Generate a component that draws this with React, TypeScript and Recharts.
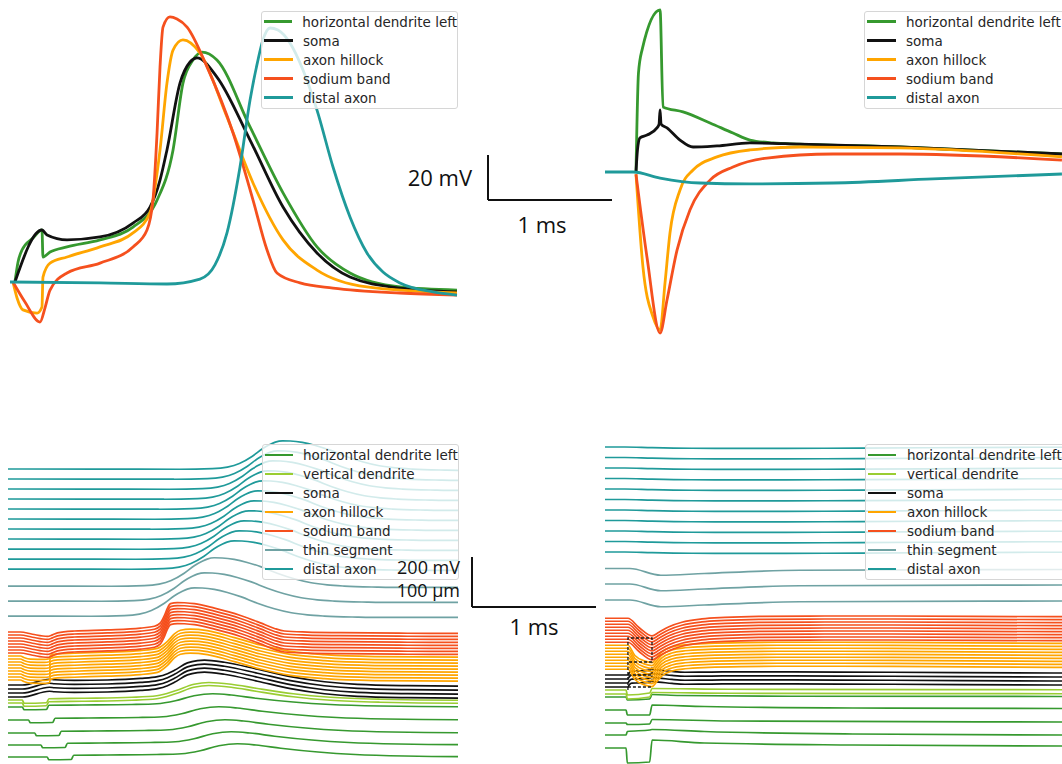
import React from 'react';
import { LineChart, Line, XAxis, YAxis, ReferenceLine, Legend } from 'recharts';

type Pair = [number, number];
type Pt = { t: number; v: number };

// ---------------- colours ----------------
const GREEN = '#36992f';
const YGREEN = '#9acd32';
const BLACK = '#111111';
const ORANGE = '#ffa500';
const RED = '#f5501e';
const TEAL = '#1f9a9a';
const THIN = '#6fa2a3';

// ---------------- legend labels ----------------
const LABELS_TOP = ['horizontal dendrite left', 'soma', 'axon hillock', 'sodium band', 'distal axon'];
const COLORS_TOP = [GREEN, BLACK, ORANGE, RED, TEAL];
const LABELS_BOTTOM = ['horizontal dendrite left', 'vertical dendrite', 'soma', 'axon hillock', 'sodium band', 'thin segment', 'distal axon'];
const COLORS_BOTTOM = [GREEN, YGREEN, BLACK, ORANGE, RED, THIN, TEAL];

// ---------------- scale bars ----------------
const SCALE_MS = 1;
const SCALE_TOP_MV = 20;
const SCALE_BOTTOM_MV = 200;
const SCALE_BOTTOM_UM = 100;

// ---------------- top-left: membrane potential (time ms, V mV) ----------------
const AP_HDEND: Pair[] = [
  [0.056, -75], [0.081, -66.1], [0.113, -60.8], [0.202, -55.4], [0.274, -51.9], [0.282, -63.9],
  [0.339, -61.7], [0.476, -59.4], [0.742, -56.3], [1.008, -50.6], [1.202, -38.6], [1.331, -16.3],
  [1.411, 13.4], [1.492, 23.7], [1.565, 27.2], [1.685, 23.7], [1.952, -6.1], [2.218, -35.4],
  [2.492, -59.4], [2.758, -71.0], [3.161, -77.2], [3.621, -78.6],
];
const AP_SOMA: Pair[] = [
  [0.056, -75], [0.274, -51.9], [0.315, -54.1], [0.476, -56.3], [0.742, -55.0], [1.008, -48.8],
  [1.145, -41.7], [1.226, -29.7], [1.282, -16.3], [1.387, 13.4], [1.468, 22.8], [1.524, 24.6],
  [1.685, 16.1], [1.952, -11.9], [2.218, -41.7], [2.492, -62.1], [2.758, -72.8], [3.161, -77.7],
  [3.621, -79.4],
];
const AP_HILLOCK: Pair[] = [
  [0.04, -75], [0.073, -82.1], [0.121, -87.4], [0.234, -88.8], [0.274, -86.1], [0.282, -72.8],
  [0.339, -66.6], [0.476, -63.9], [0.742, -59.4], [1.008, -53.2], [1.145, -44.3], [1.226, -16.3],
  [1.282, 13.4], [1.331, 28.1], [1.411, 32.6], [1.548, 26.8], [1.766, -1.7], [1.976, -31.0],
  [2.218, -56.3], [2.492, -69.7], [2.895, -77.2], [3.621, -79.9],
];
const AP_SODIUM: Pair[] = [
  [0.04, -75], [0.137, -83.9], [0.258, -92.8], [0.298, -86.6], [0.339, -78.6], [0.476, -71.0],
  [0.742, -66.6], [1.008, -59.4], [1.121, -51.9], [1.169, -38.6], [1.202, -8.8], [1.226, 20.6],
  [1.25, 38.3], [1.306, 42.8], [1.363, 41.9], [1.444, 38.3], [1.605, 20.6], [1.815, -8.8],
  [1.976, -38.6], [2.089, -60.8], [2.169, -71.0], [2.355, -75.4], [2.621, -77.7], [3.161, -79.9],
  [3.621, -80.8],
];
const AP_DISTAL: Pair[] = [
  [0.016, -75.0], [0.742, -75.4], [1.282, -75.9], [1.548, -73.7], [1.669, -67.4], [1.766, -53.2],
  [1.871, -23.9], [1.952, 5.9], [2.016, 23.7], [2.056, 32.6], [2.113, 37.9], [2.177, 37.0],
  [2.274, 31.2], [2.379, 19.2], [2.492, 1.4], [2.621, -23.9], [2.758, -46.1], [2.895, -62.1],
  [3.024, -70.6], [3.161, -75.4], [3.427, -79.4], [3.621, -80.8],
];

// ---------------- top-right: change from rest (time ms, mV) ----------------
const DV_HDEND: Pair[] = [
  [0.25, 0], [0.27, 44], [0.3, 54.5], [0.444, 72], [0.468, 28.9], [0.629, 26.7], [0.847, 21.8],
  [1.032, 17.3], [1.169, 14.2], [1.355, 12.9], [1.573, 12.4], [2.379, 11.1], [3.685, 8.0],
];
const DV_SOMA: Pair[] = [
  [0.25, 0], [0.262, 9.8], [0.282, 15.2], [0.339, 16.4], [0.419, 19.6], [0.436, 21.3], [0.444, 27.6],
  [0.452, 21.3], [0.5, 19.6], [0.605, 14.2], [0.71, 11.1], [0.903, 11.6], [1.169, 12.9], [1.573, 12.4],
  [2.379, 11.1], [3.685, 8.0],
];
const DV_HILLOCK: Pair[] = [
  [0.25, -1], [0.306, -42.2], [0.387, -64.4], [0.444, -70.2], [0.484, -49.3], [0.524, -27.1],
  [0.605, -8.0], [0.71, 0.9], [0.903, 6.7], [1.169, 9.8], [1.573, 11.1], [2.379, 10.7], [3.685, 6.7],
];
const DV_SODIUM: Pair[] = [
  [0.25, -1], [0.339, -38], [0.444, -71.6], [0.5, -56.9], [0.581, -34.7], [0.685, -16.9],
  [0.847, -3.6], [1.032, 2.2], [1.306, 6.2], [1.839, 8.0], [2.379, 8.0], [3.685, 5.3],
];
const DV_DISTAL: Pair[] = [
  [0, 0], [0.226, 0], [0.444, -2.7], [0.766, -4.9], [1.169, -5.3], [1.839, -4.9], [2.645, -3.1], [3.685, -0.9],
];

// ---------------- bottom-left: voltage traces stacked by position (µm) ----------------
const BL_DISTAL_POS = [600, 580, 560, 540, 520, 500, 480, 460, 440, 420, 400];
const BL_DISTAL_DELAY = [0.1, 0.06, 0.02, -0.02, -0.06, -0.1, -0.13, -0.17, -0.21, -0.25, -0.29];
const BL_THIN_POS = [366, 336, 306];
const BL_THIN_DELAY = [-0.45, -0.53, -0.61];
const BL_SODIUM_POS = [274, 268, 262, 256, 250, 244, 238, 232];
const BL_HILLOCK_POS = [226, 220, 214, 208, 202, 196, 190, 184, 178];
const BL_SOMA_POS = [168, 160, 152, 144];
const BL_CORE_DELAY = 0.06;
const BL_VDEND_POS = [138, 132];
const BL_HDEND_POS = [124, 98, 72, 48, 24];
const BL_HDEND_DELAY = [0, 0.05, 0.1, 0.15, 0.2];
const BL_VDEND_TRACE: Pair[] = [
  [0, -75], [0.115, -75], [0.13, -88], [0.31, -86], [0.33, -70], [0.6, -68], [1.0, -64], [1.2, -58],
  [1.35, -38], [1.5, -12], [1.62, -5], [1.8, -12], [2.0, -28], [2.3, -50], [2.6, -64], [3.0, -72], [3.63, -76],
];
const BL_HDEND_TRACE: Pair[] = [
  [0, -75], [0.115, -75], [0.13, -86], [0.31, -85], [0.33, -68], [0.6, -67], [1.0, -65], [1.2, -62],
  [1.35, -50], [1.5, -30], [1.65, -22], [1.8, -27], [2.0, -40], [2.3, -55], [2.6, -65], [3.0, -71], [3.63, -74],
];

// ---------------- bottom-right: change traces stacked by position (µm) ----------------
const BR_DISTAL_POS = [600, 579, 558, 537, 516, 495, 474, 453, 432, 411, 390];
const BR_THIN_POS = [357, 326, 294];
const BR_SODIUM_POS = [258, 252, 246, 240, 234, 228, 222, 216, 210];
const BR_HILLOCK_POS = [204, 198, 192, 186, 180, 174, 168, 162, 156];
const BR_SOMA_POS = [144, 136, 128, 120];
const BR_VDEND_POS = [114, 106];
const BR_HDEND_POS = [100, 74, 48, 24, -2];
const BR_CORE_DELAY = -0.065;
const BR_THIN_TRACE: Pair[] = [[0, 0], [0.2, 0], [0.45, -27], [0.8, -20], [1.57, -7], [3.69, -4]];
const BR_VDEND_TRACE: Pair[] = [[0, 0], [0.17, 0], [0.18, -20], [0.36, -12], [0.38, 6], [1.0, 3], [3.69, 1]];
const BR_HDEND_TRACES: Pair[][] = [
  [[0, 0], [0.17, 0], [0.18, -12], [0.36, -8], [0.38, 10], [0.6, 6], [1.5, 3], [3.69, 2]],
  [[0, 0], [0.17, 0], [0.18, -20], [0.36, -20], [0.38, 20], [0.8, 14], [2.0, 8], [3.69, 6]],
  [[0, 0], [0.17, 0], [0.18, -6], [0.36, -4], [0.38, 14], [1.0, 8], [3.69, 4]],
  [[0, 0], [0.17, 0], [0.18, 14], [0.36, 20], [0.38, 22], [0.8, 14], [2.0, 4], [3.69, 0]],
  [[0, 0], [0.17, 0], [0.18, -60], [0.36, -56], [0.38, 32], [0.8, 20], [2.0, 12], [3.69, 8]],
];
// highlighted window (dashed outline) in bottom-right: time ms, stacked units
const BR_BOX_OUTLINE: Pair[] = [[0.185, 228], [0.185, 436], [0.379, 436], [0.379, 340], [0.185, 340]];
const BR_BOX_DASHES: Pair[][] = [
  [[0.185, 288], [0.379, 288]],
  [[0.185, 240], [0.379, 240]],
];

// ---------------- helpers ----------------
const toPoints = (tr: Pair[]): Pt[] => tr.map(([t, v]) => ({ t, v }));
const stacked = (tr: Pair[], posUm: number, delayMs: number): Pt[] => {
  const off = (2 * posUm * SCALE_BOTTOM_MV) / (2 * SCALE_BOTTOM_UM); // 100 µm ↔ 200 mV
  return [
    { t: -2, v: tr[0][1] + off },
    ...tr.map(([t, v]) => ({ t: t + delayMs, v: v + off })),
    { t: 8, v: tr[tr.length - 1][1] + off },
  ];
};

type Series = { key: string; data: Pt[]; color: string; width: number; dash?: string; curve?: 'linear' | 'monotone' };

const tlSeries: Series[] = [AP_HDEND, AP_SOMA, AP_HILLOCK, AP_SODIUM, AP_DISTAL].map((tr, i) => ({
  key: 'tl' + i, data: toPoints(tr), color: COLORS_TOP[i], width: 2.8,
}));
const trSeries: Series[] = [DV_HDEND, DV_SOMA, DV_HILLOCK, DV_SODIUM, DV_DISTAL].map((tr, i) => ({
  key: 'tr' + i, data: toPoints(tr), color: COLORS_TOP[i], width: 2.8,
}));

const BW = 1.7;
const blSeries: Series[] = [
  ...BL_HDEND_POS.map((p, i) => ({ key: 'blh' + i, data: stacked(BL_HDEND_TRACE, p, BL_HDEND_DELAY[i]), color: GREEN, width: BW })),
  ...BL_VDEND_POS.map((p, i) => ({ key: 'blv' + i, data: stacked(BL_VDEND_TRACE, p, 0), color: YGREEN, width: BW })),
  ...BL_SOMA_POS.map((p, i) => ({ key: 'bls' + i, data: stacked(AP_SOMA, p, BL_CORE_DELAY), color: BLACK, width: BW })),
  ...BL_HILLOCK_POS.map((p, i) => ({ key: 'blk' + i, data: stacked(AP_HILLOCK, p, BL_CORE_DELAY), color: ORANGE, width: BW })),
  ...BL_SODIUM_POS.map((p, i) => ({ key: 'bln' + i, data: stacked(AP_SODIUM, p, BL_CORE_DELAY), color: RED, width: BW })),
  ...BL_THIN_POS.map((p, i) => ({ key: 'blt' + i, data: stacked(AP_DISTAL, p, BL_THIN_DELAY[i]), color: THIN, width: BW })),
  ...BL_DISTAL_POS.map((p, i) => ({ key: 'bld' + i, data: stacked(AP_DISTAL, p, BL_DISTAL_DELAY[i]), color: TEAL, width: BW })),
];
const brSeries: Series[] = [
  ...BR_HDEND_POS.map((p, i) => ({ key: 'brh' + i, data: stacked(BR_HDEND_TRACES[i], p, 0), color: GREEN, width: BW })),
  ...BR_VDEND_POS.map((p, i) => ({ key: 'brv' + i, data: stacked(BR_VDEND_TRACE, p, 0), color: YGREEN, width: BW })),
  ...BR_SOMA_POS.map((p, i) => ({ key: 'brs' + i, data: stacked(DV_SOMA, p, BR_CORE_DELAY), color: BLACK, width: BW })),
  ...BR_HILLOCK_POS.map((p, i) => ({ key: 'brk' + i, data: stacked(DV_HILLOCK, p, BR_CORE_DELAY), color: ORANGE, width: BW })),
  ...BR_SODIUM_POS.map((p, i) => ({ key: 'brn' + i, data: stacked(DV_SODIUM, p, BR_CORE_DELAY), color: RED, width: BW })),
  ...BR_THIN_POS.map((p, i) => ({ key: 'brt' + i, data: stacked(BR_THIN_TRACE, p, 0), color: THIN, width: BW })),
  ...BR_DISTAL_POS.map((p, i) => ({ key: 'brd' + i, data: stacked(DV_DISTAL, p, BR_CORE_DELAY), color: TEAL, width: BW })),
  { key: 'brbox', data: toPoints(BR_BOX_OUTLINE), color: '#1a1a1a', width: 1.3, dash: '3 2', curve: 'linear' },
  ...BR_BOX_DASHES.map((d, i) => ({ key: 'brdash' + i, data: toPoints(d), color: '#1a1a1a', width: 1.3, dash: '3 2', curve: 'linear' as const })),
];

// ---------------- legend ----------------
const LegendBox = ({ labels, colors, lineW, handleW, gap, width }: any) => (
  <div
    style={{
      background: 'rgba(255,255,255,0.8)',
      border: '1px solid #d6d6d6',
      borderRadius: 3,
      paddingBottom: 1,
      width,
      boxSizing: 'border-box',
      fontFamily: '"DejaVu Sans", sans-serif',
      fontSize: 13.5,
      color: '#262626',
    }}
  >
    {labels.map((l: string, i: number) => (
      <div key={l} style={{ display: 'flex', alignItems: 'center', height: 19 }}>
        <span style={{ display: 'inline-block', marginLeft: 2, width: handleW, height: 0, borderTop: `${lineW}px solid ${colors[i]}`, marginRight: gap }} />
        <span style={{ whiteSpace: 'nowrap' }}>{l}</span>
      </div>
    ))}
  </div>
);

const Panel = ({ left, top, width, height, xDomain, yDomain, series, legend }: any) => (
  <div style={{ position: 'absolute', left, top, width, height }}>
    <LineChart width={width} height={height} margin={{ top: 0, right: 0, bottom: 0, left: 0 }}>
      <XAxis type="number" dataKey="t" domain={xDomain} hide allowDataOverflow />
      <YAxis type="number" domain={yDomain} hide allowDataOverflow />
      {series.map((s: Series) => (
        <Line
          key={s.key}
          data={s.data}
          dataKey="v"
          type={s.curve ?? 'monotone'}
          stroke={s.color}
          strokeWidth={s.width}
          strokeDasharray={s.dash}
          dot={false}
          activeDot={false}
          isAnimationActive={false}
        />
      ))}
      {legend ? (
        <Legend
          layout="vertical"
          align="center"
          verticalAlign="middle"
          wrapperStyle={{ left: legend.left, top: legend.top, width: legend.width, height: 'auto', right: 'auto', bottom: 'auto' }}
          content={() => <LegendBox {...legend} />}
        />
      ) : null}
    </LineChart>
  </div>
);

const TXT = { fontFamily: '"Open Sans", sans-serif', fill: '#111' };

const ScaleChart = ({ left, top, origin, yTop, yDomain, vLabel, hLabel }: any) => (
  <div style={{ position: 'absolute', left, top, width: 240, height: 100 }}>
    <LineChart width={240} height={100} margin={{ top: 0, right: 0, bottom: 0, left: 0 }}>
      <XAxis type="number" dataKey="t" domain={[0, 240 / 124]} hide allowDataOverflow />
      <YAxis type="number" domain={yDomain} hide allowDataOverflow />
      <ReferenceLine
        segment={[{ x: origin[0], y: origin[1] }, { x: origin[0], y: yTop }]}
        stroke="#111"
        strokeWidth={2}
        label={vLabel}
      />
      <ReferenceLine
        segment={[{ x: origin[0], y: origin[1] }, { x: origin[0] + SCALE_MS, y: origin[1] }]}
        stroke="#111"
        strokeWidth={2}
        label={hLabel}
      />
    </LineChart>
  </div>
);

export default function App() {
  return (
    <div style={{ position: 'absolute', left: 0, top: 0, width: 1062, height: 764, overflow: 'hidden', background: '#fff' }}>
      <Panel
        left={8} top={1} width={450} height={337}
        xDomain={[0, 450 / 124]} yDomain={[-99.9, 49.9]}
        series={tlSeries}
        legend={{ left: 253, top: 10, width: 197, labels: LABELS_TOP, colors: COLORS_TOP, lineW: 3, handleW: 29, gap: 10 }}
      />
      <Panel
        left={605} top={0} width={457} height={340}
        xDomain={[0, 457 / 124]} yDomain={[-74.67, 76.44]}
        series={trSeries}
        legend={{ left: 259, top: 11, width: 210, labels: LABELS_TOP, colors: COLORS_TOP, lineW: 3, handleW: 29, gap: 10 }}
      />
      <Panel
        left={8} top={430} width={450} height={334}
        xDomain={[0, 450 / 124]} yDomain={[-55, 1281]}
        series={blSeries}
        legend={{ left: 254, top: 14, width: 197, labels: LABELS_BOTTOM, colors: COLORS_BOTTOM, lineW: 2, handleW: 28, gap: 10 }}
      />
      <Panel
        left={605} top={430} width={457} height={334}
        xDomain={[0, 457 / 124]} yDomain={[-68, 1268]}
        series={brSeries}
        legend={{ left: 260, top: 14, width: 210, labels: LABELS_BOTTOM, colors: COLORS_BOTTOM, lineW: 2, handleW: 28, gap: 11 }}
      />

      <ScaleChart
        left={380} top={140}
        origin={[0.871, 17.78]} yTop={17.78 + SCALE_TOP_MV} yDomain={[0, 100 / 2.25]}
        vLabel={(p: any) => (
          <text x={p.viewBox.x - 16} y={p.viewBox.y + p.viewBox.height / 2} textAnchor="end" dominantBaseline="central" fontSize={22} {...TXT}>
            {`${SCALE_TOP_MV} mV`}
          </text>
        )}
        hLabel={(p: any) => (
          <text x={p.viewBox.x + p.viewBox.width / 2 - 8} y={p.viewBox.y + 24} textAnchor="middle" dominantBaseline="central" fontSize={22} {...TXT}>
            {`${SCALE_MS} ms`}
          </text>
        )}
      />
      <ScaleChart
        left={380} top={540}
        origin={[0.742, 132]} yTop={132 + SCALE_BOTTOM_MV} yDomain={[0, 400]}
        vLabel={(p: any) => (
          <g>
            <text x={p.viewBox.x - 12} y={p.viewBox.y + 10} textAnchor="end" dominantBaseline="central" fontSize={18} {...TXT}>
              {`${SCALE_BOTTOM_MV} mV`}
            </text>
            <text x={p.viewBox.x - 12} y={p.viewBox.y + 33} textAnchor="end" dominantBaseline="central" fontSize={18} {...TXT}>
              {`${SCALE_BOTTOM_UM} µm`}
            </text>
          </g>
        )}
        hLabel={(p: any) => (
          <text x={p.viewBox.x + p.viewBox.width / 2} y={p.viewBox.y + 19} textAnchor="middle" dominantBaseline="central" fontSize={22} {...TXT}>
            {`${SCALE_MS} ms`}
          </text>
        )}
      />
    </div>
  );
}
